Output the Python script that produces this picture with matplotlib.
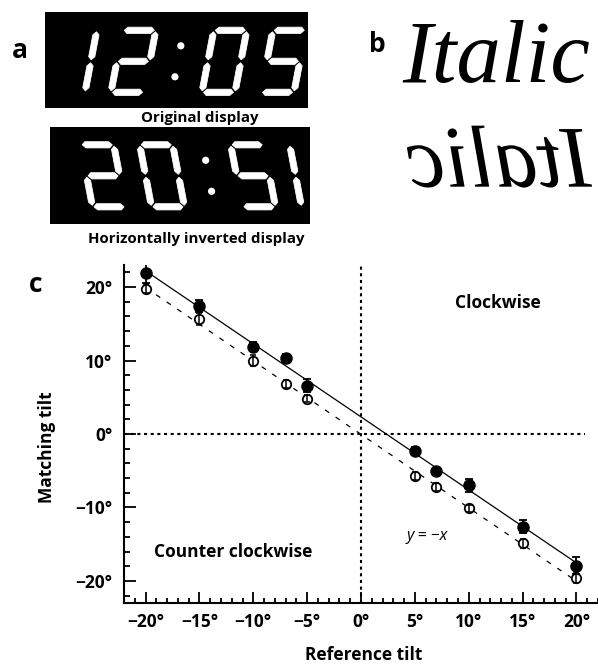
import numpy as np
import matplotlib
matplotlib.use('Agg')
import matplotlib.pyplot as plt
from matplotlib.patches import Rectangle, Polygon, Circle, PathPatch
from matplotlib.textpath import TextPath
from matplotlib.font_manager import FontProperties
from matplotlib.transforms import Affine2D
from matplotlib.ticker import MultipleLocator, FixedLocator

plt.rcParams['lines.scale_dashes'] = False

# ---------------- data ----------------
reference_tilt = [-20, -15, -10, -7, -5, 5, 7, 10, 15, 20]
filled_tilt = [21.9, 17.4, 11.9, 10.4, 6.6, -2.3, -5.1, -7.0, -12.6, -17.9]
filled_err = [1.3, 0.8, 0.6, 0.5, 0.9, 0.5, 0.5, 0.9, 0.9, 1.1]
open_tilt = [19.8, 15.6, 10.0, 6.8, 4.8, -5.7, -7.2, -10.1, -14.9, -19.6]
open_err = [0.6, 0.8, 0.8, 0.5, 0.5, 0.5, 0.5, 0.5, 0.6, 0.7]

x_ticks = [-20, -15, -10, -5, 0, 5, 10, 15, 20]
x_tick_labels = ['\u221220\u00b0', '\u221215\u00b0', '\u221210\u00b0', '\u22125\u00b0', '0\u00b0',
                 '5\u00b0', '10\u00b0', '15\u00b0', '20\u00b0']
y_ticks = [-20, -10, 0, 10, 20]
y_tick_labels = ['\u221220\u00b0', '\u221210\u00b0', '0\u00b0', '10\u00b0', '20\u00b0']

display_time = "12:05"
sample_word = "Italic"

# ---------------- figure ----------------
W_PX, H_PX = 598, 669
fig = plt.figure(figsize=(W_PX / 100, H_PX / 100), dpi=100)
SANS = ['Open Sans', 'DejaVu Sans']

bg = fig.add_axes([0, 0, 1, 1], zorder=0)
bg.set_xlim(0, W_PX)
bg.set_ylim(H_PX, 0)
bg.axis('off')

# ---------- panel a: seven-segment displays ----------
SEGMENTS = {'0': 'abcdef', '1': 'bc', '2': 'abged', '3': 'abgcd', '4': 'fgbc',
            '5': 'afgcd', '6': 'afgedc', '7': 'abc', '8': 'abcdefg', '9': 'abcdfg'}
SW, SH, ST, SS, SG = 33.0, 62.0, 6.2, 0.19, 1.5   # width, height, thickness, slant, gap


def seg_local(seg):
    if seg in 'agd':
        v = {'a': SH, 'g': SH / 2, 'd': 0.0}[seg]
        u0, u1 = SG, SW - SG
        return [(u0, v), (u0 + ST / 2, v + ST / 2), (u1 - ST / 2, v + ST / 2),
                (u1, v), (u1 - ST / 2, v - ST / 2), (u0 + ST / 2, v - ST / 2)]
    u = 0.0 if seg in 'fe' else SW
    v0, v1 = (SH / 2 + SG, SH - SG) if seg in 'fb' else (SG, SH / 2 - SG)
    return [(u, v0), (u + ST / 2, v0 + ST / 2), (u + ST / 2, v1 - ST / 2),
            (u, v1), (u - ST / 2, v1 - ST / 2), (u - ST / 2, v0 + ST / 2)]


cell_x = [52, 111, 172, 202, 261]   # layout of the five character cells
ybot = 92.3
K_MIRROR, DY = 386.5, 114.5


def to_px(x0, u, v, mirror):
    X = x0 + u + SS * v
    Y = ybot - v
    if mirror:
        return (K_MIRROR - X, Y + DY)
    return (X, Y)


def draw_display(mirror):
    for ch, x0 in zip(display_time, cell_x):
        if ch == ':':
            for v in (SH * 0.25, SH * 0.75):
                bg.add_patch(Circle(to_px(x0, 0, v, mirror), 3.6, color='white', lw=0, zorder=3))
            continue
        for seg in SEGMENTS[ch]:
            pts = [to_px(x0, u, v, mirror) for (u, v) in seg_local(seg)]
            bg.add_patch(Polygon(pts, closed=True, facecolor='white', edgecolor='white',
                                 lw=0.6, joinstyle='round', zorder=3))


bg.add_patch(Rectangle((45, 12), 263, 96, facecolor='black', lw=0, zorder=2))
bg.add_patch(Rectangle((50, 127), 260, 97, facecolor='black', lw=0, zorder=2))
draw_display(False)
draw_display(True)

bg.text(200, 118, 'Original display', ha='center', va='center', fontsize=10.8,
        fontweight='bold', family=SANS, zorder=4)
bg.text(196, 239, 'Horizontally inverted display', ha='center', va='center', fontsize=10.8,
        fontweight='bold', family=SANS)

bg.text(20, 50, 'a', ha='center', va='center', fontsize=19, fontweight='bold', family=SANS)
bg.text(377, 45, 'b', ha='center', va='center', fontsize=19, fontweight='bold', family=SANS)
bg.text(35.5, 285, 'c', ha='center', va='center', fontsize=19, fontweight='bold', family=SANS)

# ---------- panel b: italic word and its mirror ----------
serif_it = FontProperties(family='Liberation Serif', style='italic', size=64)
bg.text(402, 81.7, sample_word, ha='left', va='baseline', fontproperties=serif_it,
        color='black')
tp = TextPath((0, 0), sample_word, size=88, prop=serif_it)
ext = tp.get_extents()
tr = Affine2D().scale(-1, -1).translate(592 + ext.x0, 186.7)
bg.add_patch(PathPatch(tr.transform_path(tp), facecolor='black', lw=0))

# ---------- panel c: tilt matching ----------
ax = fig.add_axes([124 / W_PX, 66 / H_PX, 474 / W_PX, 338 / H_PX], zorder=1)
ax.set_facecolor('none')
ax.set_xlim(-22, 22)
ax.set_ylim(-23, 23)

for s in ('top', 'right'):
    ax.spines[s].set_visible(False)
for s in ('left', 'bottom'):
    ax.spines[s].set_linewidth(1.5)

# reference lines
ax.axvline(0, color='black', lw=1.5, linestyle=(0, (2.2, 2.6)), zorder=1)
ax.hlines(0, -22, 20.8, color='black', lw=1.5, linestyle=(0, (2.2, 2.6)), zorder=1)

xr = np.array(reference_tilt, dtype=float)
xs = np.array([xr.min(), xr.max()])
pf = np.polyfit(xr, filled_tilt, 1)
po = np.polyfit(xr, open_tilt, 1)
ax.plot(xs, np.polyval(pf, xs), color='black', lw=0.9, zorder=2)
ax.plot(xs, np.polyval(po, xs), color='black', lw=0.9, linestyle=(0, (3.6, 5.6)), zorder=2)

ax.errorbar(reference_tilt, filled_tilt, yerr=filled_err, fmt='o', color='black',
            ms=8, capsize=3, elinewidth=1.3, capthick=1.3, zorder=4)
ax.plot(reference_tilt, open_tilt, 'o', mfc='white', mec='black', ms=6.8, mew=1.3, zorder=4)
ax.errorbar(reference_tilt, open_tilt, yerr=open_err, fmt='none', ecolor='black',
            capsize=2.4, elinewidth=1.1, capthick=1.1, zorder=5)

ax.xaxis.set_major_locator(FixedLocator(x_ticks))
ax.xaxis.set_minor_locator(MultipleLocator(1))
ax.yaxis.set_major_locator(FixedLocator(y_ticks))
ax.yaxis.set_minor_locator(MultipleLocator(2))
ax.set_xticklabels(x_tick_labels, fontsize=12.5, fontweight='bold', family=SANS)
ax.set_yticklabels(y_tick_labels, fontsize=12.5, fontweight='bold', family=SANS)
ax.tick_params(which='both', direction='in', width=1.3, color='black')
ax.tick_params(axis='y', which='major', length=8.4, pad=8.5)
ax.tick_params(axis='y', which='minor', length=4.3)
ax.tick_params(axis='x', which='major', length=8, pad=7)
ax.tick_params(axis='x', which='minor', length=3.6)

bg.text(47, 447, 'Matching tilt', rotation=90, ha='center', va='center', fontsize=12.5,
        fontweight='bold', family=SANS)
bg.text(364, 655, 'Reference tilt', ha='center', va='center', fontsize=12.5,
        fontweight='bold', family=SANS)
bg.text(498, 303, 'Clockwise', ha='center', va='center', fontsize=12.5,
        fontweight='bold', family=SANS)
bg.text(233, 552, 'Counter clockwise', ha='center', va='center', fontsize=12.5,
        fontweight='bold', family=SANS)
bg.text(427, 536, 'y = \u2212x', ha='center', va='center', fontsize=11.5,
        style='italic', family=SANS)

fig.savefig('out.png', dpi=100)
